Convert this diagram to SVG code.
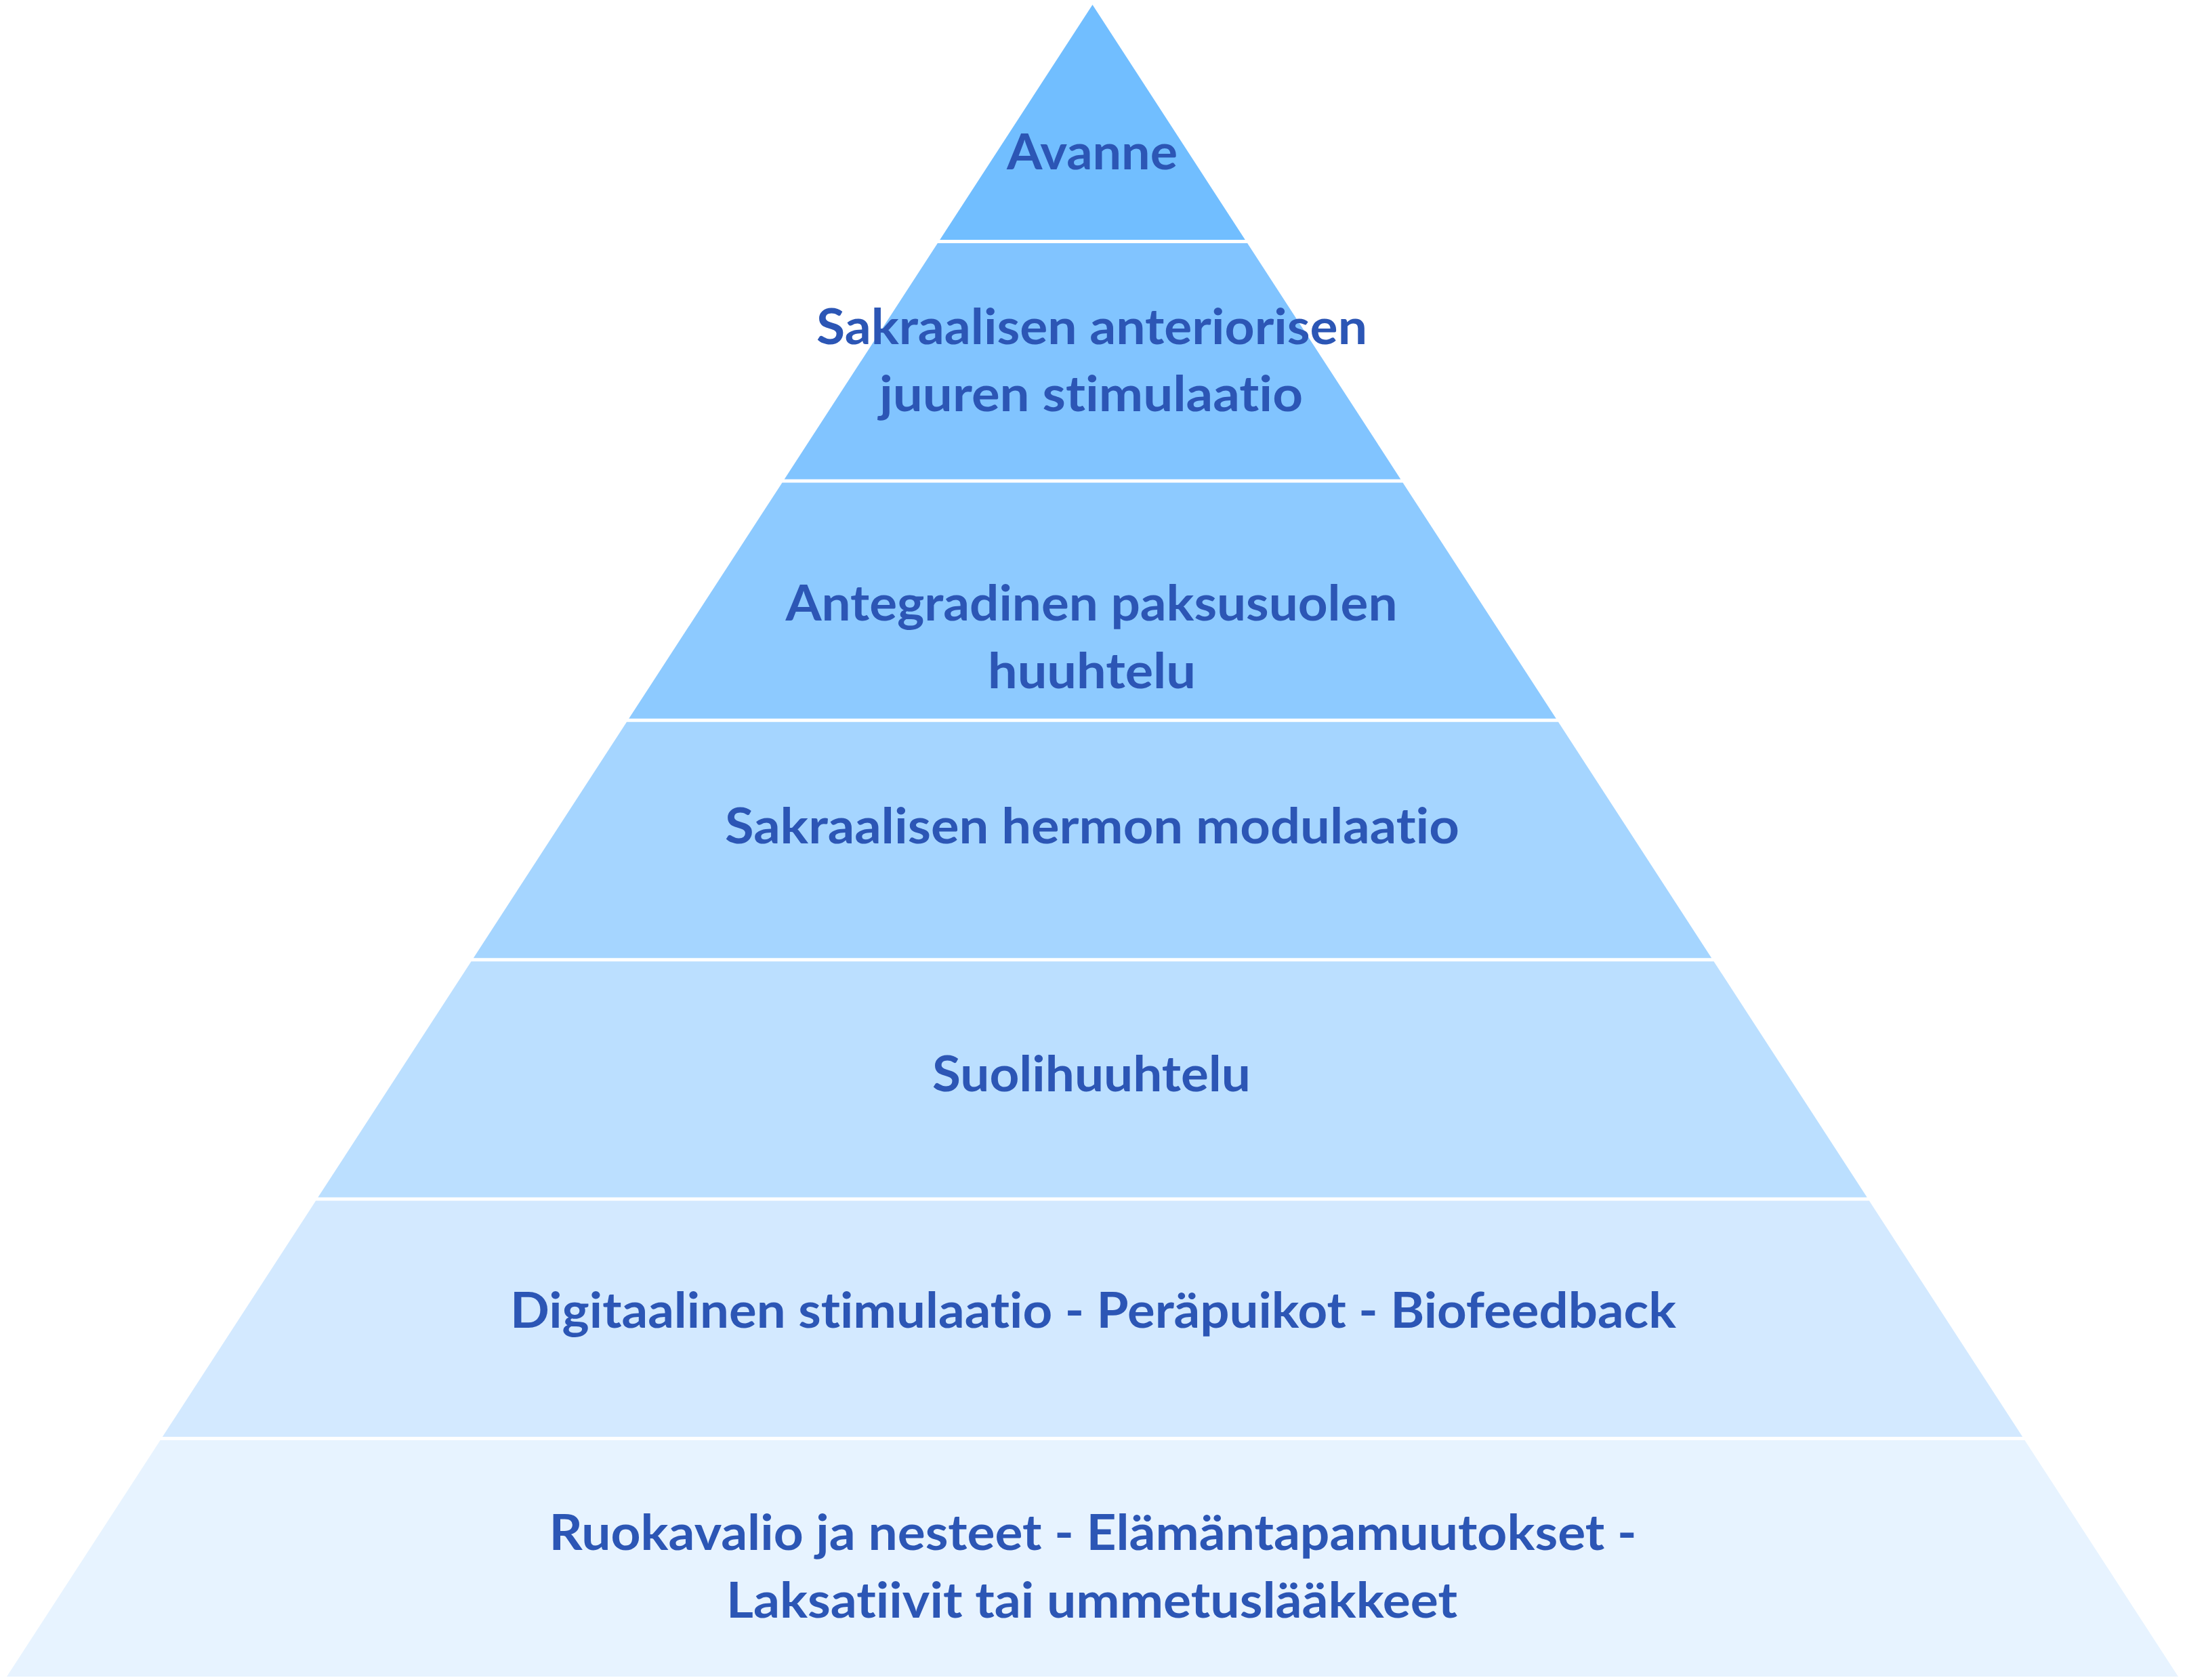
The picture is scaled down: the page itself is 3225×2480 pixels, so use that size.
<svg xmlns="http://www.w3.org/2000/svg" width="3225" height="2480" viewBox="0 0 3225 2480">
<style>
.t{font-family:Lato,"Open Sans","Liberation Sans",sans-serif;font-weight:bold;font-size:72px;fill:#2C56B5;text-anchor:middle;font-variant-ligatures:none;font-feature-settings:"liga" 0,"clig" 0}
</style>
<rect width="3225" height="2480" fill="#FFFFFF"/>
<g id="layer1">
<polygon points="1612.5,7 1837.8,354 1387.2,354" fill="#71BEFF"/>
<text class="t" x="1612" y="250" textLength="252" lengthAdjust="spacingAndGlyphs">Avanne</text>
</g>
<g id="layer2">
<polygon points="1383.9,359 1841.1,359 2067.3,707.4 1157.7,707.4" fill="#81C4FF"/>
<text class="t" x="1611.5" y="508" textLength="813" lengthAdjust="spacingAndGlyphs">Sakraalisen anteriorisen</text>
<text class="t" x="1610.5" y="607" textLength="625" lengthAdjust="spacingAndGlyphs">juuren stimulaatio</text>
</g>
<g id="layer3">
<polygon points="1154.5,712.4 2070.5,712.4 2296.8,1060.8 928.2,1060.8" fill="#8DCAFF"/>
<text class="t" x="1611" y="916" textLength="903" lengthAdjust="spacingAndGlyphs">Antegradinen paksusuolen</text>
<text class="t" x="1611.5" y="1016" textLength="307" lengthAdjust="spacingAndGlyphs">huuhtelu</text>
</g>
<g id="layer4">
<polygon points="925,1065.8 2300,1065.8 2526.2,1414.2 698.8,1414.2" fill="#A5D5FF"/>
<text class="t" x="1612" y="1245" textLength="1084" lengthAdjust="spacingAndGlyphs">Sakraalisen hermon modulaatio</text>
</g>
<g id="layer5">
<polygon points="695.5,1419.2 2529.5,1419.2 2755.7,1767.6 469.3,1767.6" fill="#BBDFFF"/>
<text class="t" x="1611" y="1611" textLength="470" lengthAdjust="spacingAndGlyphs">Suolihuuhtelu</text>
</g>
<g id="layer6">
<polygon points="466.1,1772.6 2758.9,1772.6 2985.2,2121 239.8,2121" fill="#D3E9FF"/>
<text class="t" x="1613.5" y="1960" textLength="1721" lengthAdjust="spacingAndGlyphs">Digitaalinen stimulaatio - Peräpuikot - Biofeedback</text>
</g>
<g id="layer7">
<polygon points="236.6,2126 2988.4,2126 3215,2475 10,2475" fill="#E7F3FF"/>
<text class="t" x="1613" y="2288" textLength="1605" lengthAdjust="spacingAndGlyphs">Ruokavalio ja nesteet - Elämäntapamuutokset -</text>
<text class="t" x="1611.5" y="2388" textLength="1079" lengthAdjust="spacingAndGlyphs">Laksatiivit tai ummetuslääkkeet</text>
</g>
<g id="connectors"></g>
</svg>
